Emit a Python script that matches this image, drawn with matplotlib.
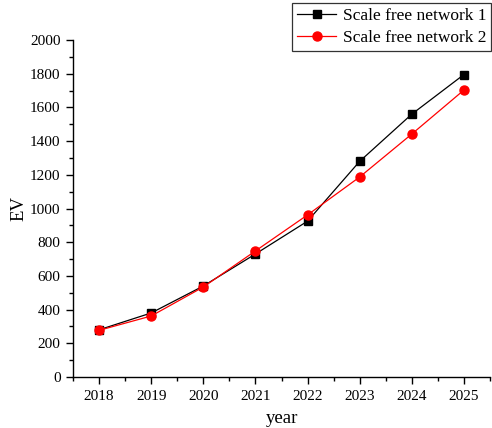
import matplotlib.pyplot as plt
from matplotlib.ticker import MultipleLocator

years = [2018, 2019, 2020, 2021, 2022, 2023, 2024, 2025]
network_1 = [280, 380, 540, 730, 925, 1280, 1560, 1795]
network_2 = [277, 362, 534, 748, 962, 1187, 1442, 1703]

plt.rcParams['font.family'] = ['Liberation Serif', 'DejaVu Serif']

fig = plt.figure(figsize=(4.92, 4.28), dpi=100)
ax = fig.add_axes([73 / 492, 1 - 377 / 428, 417 / 492, 337 / 428])

ax.plot(years, network_1, color='black', lw=0.9, marker='s', ms=5.5,
        label='Scale free network 1')
ax.plot(years, network_2, color='red', lw=0.9, marker='o', ms=6.5,
        label='Scale free network 2')

ax.set_xlim(2017.5, 2025.5)
ax.set_ylim(0, 2000)
ax.xaxis.set_major_locator(MultipleLocator(1))
ax.xaxis.set_minor_locator(MultipleLocator(0.5))
ax.yaxis.set_major_locator(MultipleLocator(200))
ax.yaxis.set_minor_locator(MultipleLocator(100))
ax.tick_params(which='major', direction='out', length=5, width=1, labelsize=11,
               pad=4)
ax.tick_params(which='minor', direction='out', length=3, width=1)

for side in ('top', 'right'):
    ax.spines[side].set_visible(False)
for side in ('left', 'bottom'):
    ax.spines[side].set_linewidth(1)

ax.set_xlabel('year', fontsize=13.5)
ax.set_ylabel('EV', fontsize=13.5)
ax.xaxis.set_label_coords(0.5, -0.098)
ax.yaxis.set_label_coords(-0.11, 0.5)

leg = ax.legend(loc='upper right', bbox_to_anchor=(1.003, 1.11), fontsize=12.5,
                frameon=True, fancybox=False, edgecolor='black',
                borderpad=0.3, handlelength=2.2, labelspacing=0.3,
                handletextpad=0.4, borderaxespad=0)
leg.get_frame().set_linewidth(0.9)

fig.savefig('out.png', dpi=100)
